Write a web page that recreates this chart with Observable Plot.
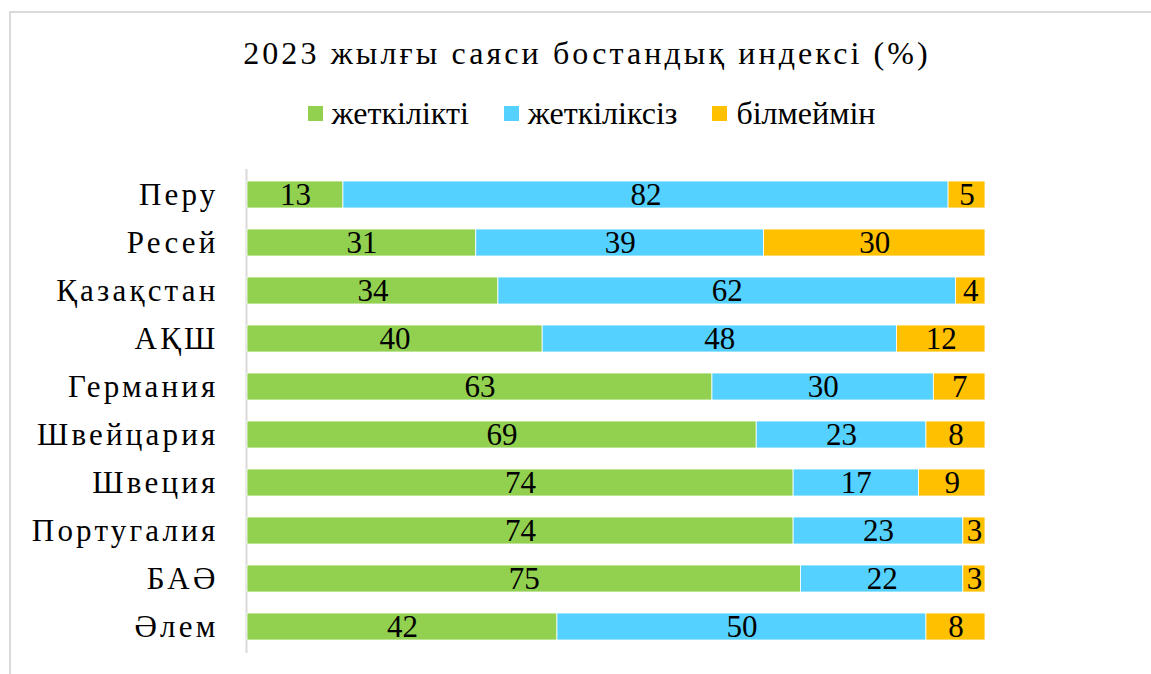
<!DOCTYPE html>
<html>
<head>
<meta charset="utf-8">
<script src="https://cdn.jsdelivr.net/npm/d3@7"></script>
<script src="https://cdn.jsdelivr.net/npm/@observablehq/plot@0.6"></script>
<style>
  html, body { margin: 0; padding: 0; background: #fff; width: 1151px; height: 674px; overflow: hidden; }
  body { position: relative; font-family: 'Liberation Serif', serif; }
  #frame { position: absolute; left: 9px; top: 11px; width: 1200px; height: 700px; border: 2px solid #d9d9d9; box-sizing: border-box; }
  #title { position: absolute; left: 0; top: 37px; width: 1174px; text-align: center; font-family: 'Liberation Serif', serif; font-size: 32px; line-height: 32px; letter-spacing: 3.1px; color: #000; white-space: nowrap; }
  #legend { position: absolute; left: 0; top: 97px; width: 1183px; display: flex; justify-content: center; gap: 35px; font-family: 'Liberation Serif', serif; font-size: 32px; line-height: 32px; color: #000; }
  .item { display: flex; align-items: center; gap: 9px; }
  .sw { width: 15px; height: 15px; display: inline-block; }
  #chart { position: absolute; left: 0; top: 0; }
  #chart svg text { font-family: 'Liberation Serif', serif; }
  #chart svg g[aria-label="y-axis tick label"] text { letter-spacing: 3.2px; }
</style>
</head>
<body>
<div id="frame"></div>
<div id="title"></div>
<div id="legend"></div>
<div id="chart"></div>
<script>
const titleText = "2023 жылғы саяси бостандық индексі (%)";
const countries = ["Перу", "Ресей", "Қазақстан", "АҚШ", "Германия", "Швейцария", "Швеция", "Португалия", "БАӘ", "Әлем"];
const categories = ["жеткілікті", "жеткіліксіз", "білмеймін"];
const colors = ["#92D050", "#55D1FF", "#FFC000"];
const sufficient   = [13, 31, 34, 40, 63, 69, 74, 74, 75, 42];
const insufficient = [82, 39, 62, 48, 30, 23, 17, 23, 22, 50];
const dontKnow     = [5, 30, 4, 12, 7, 8, 9, 3, 3, 8];

const series = [sufficient, insufficient, dontKnow];
const data = [];
countries.forEach((c, i) => {
  categories.forEach((cat, j) => data.push({country: c, category: cat, value: series[j][i]}));
});

document.getElementById("title").textContent = titleText;
const legend = document.getElementById("legend");
categories.forEach((cat, j) => {
  const it = document.createElement("div");
  it.className = "item";
  const sw = document.createElement("span");
  sw.className = "sw";
  sw.style.background = colors[j];
  const tx = document.createElement("span");
  tx.textContent = cat;
  it.appendChild(sw); it.appendChild(tx);
  legend.appendChild(it);
});

const chart = Plot.plot({
  width: 1151,
  height: 674,
  marginTop: 169,
  marginBottom: 21,
  marginLeft: 247,
  marginRight: 166,
  style: {fontFamily: "'Liberation Serif', serif", fontSize: "31px", background: "transparent", color: "#000"},
  x: {domain: [0, 100], axis: null},
  y: {domain: countries, paddingInner: 0.43, paddingOuter: 0.215, axis: null},
  color: {domain: categories, range: colors},
  marks: [
    Plot.ruleX([0], {stroke: "#d9d9d9", strokeWidth: 2, dx: -1}),
    Plot.barX(data, Plot.stackX({x: "value", y: "country", fill: "category", stroke: "white", strokeWidth: 0.8})),
    Plot.text(data, Plot.stackX({x: "value", y: "country", z: "category", text: d => String(d.value), fill: "#000", fontSize: 31})),
    Plot.axisY({tickSize: 0, tickPadding: 29, fontSize: 31, label: null})
  ]
});
document.getElementById("chart").appendChild(chart);
</script>
</body>
</html>
